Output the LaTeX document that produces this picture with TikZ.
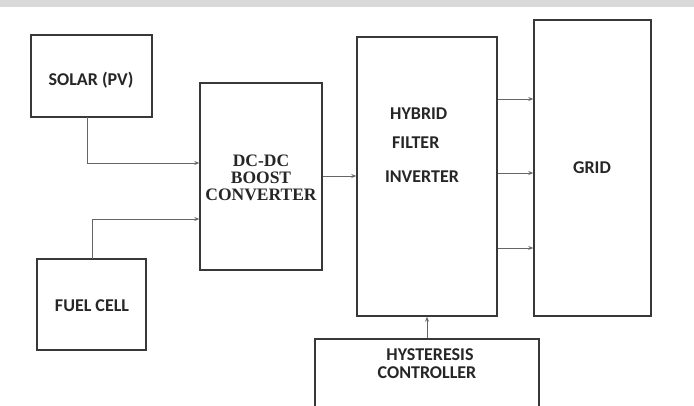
\documentclass[tikz,border=0pt]{standalone}
\usepackage{fontspec}
\setmainfont{Liberation Serif}
\newfontfamily\blocksans{Carlito}
\usetikzlibrary{arrows.meta}
\begin{document}
\begin{tikzpicture}[x=1pt,y=-1pt,
  blockbox/.style={draw=black!78,line width=2.5pt},
  lbl/.style={font=\blocksans\bfseries\fontsize{18}{20}\selectfont,text=black!85,inner sep=0pt},
  slbl/.style={font=\bfseries\fontsize{17.5}{19}\selectfont,text=black!85,inner sep=0pt},
  conn/.style={draw=black!60,line width=0.8pt,-{Stealth[length=5pt,width=4pt]}}]
\useasboundingbox (0,0) rectangle (694,406);
\fill[white] (0,0) rectangle (694,406);
\fill[black!15] (0,0) rectangle (694,7);
% boxes
\path[blockbox] (31,35) rectangle (152,117);
\coordinate (solarB) at (87,117);
\path[blockbox] (200,83) rectangle (322,270);
\path[blockbox] (37,259) rectangle (146,350);
\coordinate (fuelT) at (92,259);
\path[blockbox] (357,37) rectangle (497,316);
\path[blockbox] (534,20) rectangle (651,316);
\path[blockbox] (315,339) rectangle (539,408);
% named anchor nodes
\node[inner sep=0pt] (dcL1) at (200,163) {};
\node[inner sep=0pt] (dcL2) at (200,219) {};
\node[inner sep=0pt] (dcR) at (322,176) {};
\node[inner sep=0pt] (hyL) at (357,176) {};
\node[inner sep=0pt] (hyR1) at (497,99) {};
\node[inner sep=0pt] (hyR2) at (497,173) {};
\node[inner sep=0pt] (hyR3) at (497,248) {};
\node[inner sep=0pt] (grL1) at (534,99) {};
\node[inner sep=0pt] (grL2) at (534,173) {};
\node[inner sep=0pt] (grL3) at (534,248) {};
\node[inner sep=0pt] (hyB) at (427,316) {};
\node[inner sep=0pt] (hcT) at (427,339) {};
% labels
\node[lbl] (solar) at (91,80) {SOLAR (PV)};
\node[lbl] (fuel) at (92,306) {FUEL CELL};
\node[slbl] (dc1) at (261,161) {DC-DC};
\node[slbl] (dc2) at (261,178) {BOOST};
\node[slbl] (dc3) at (261,195) {CONVERTER};
\node[lbl,anchor=west] (hy1) at (390,114) {HYBRID};
\node[lbl,anchor=west] (hy2) at (392,143) {FILTER};
\node[lbl] (hy3) at (422,177) {INVERTER};
\node[lbl] (grid) at (592,168) {GRID};
\node[lbl] (hc1) at (430,355) {HYSTERESIS};
\node[lbl] (hc2) at (427,373) {CONTROLLER};
% connectors
\draw[conn] (solarB) |- (dcL1);
\draw[conn] (fuelT) |- (dcL2);
\draw[conn] (dcR) -- (hyL);
\draw[conn] (hyR1) -- (grL1);
\draw[conn] (hyR2) -- (grL2);
\draw[conn] (hyR3) -- (grL3);
\draw[conn] (hcT) -- (hyB);
\end{tikzpicture}
\end{document}
